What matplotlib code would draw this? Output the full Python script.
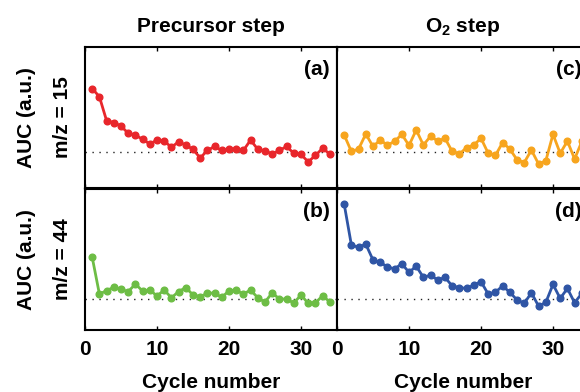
import matplotlib

matplotlib.use("Agg")
import matplotlib.pyplot as plt

plt.rcParams.update({
    "font.family": ["Liberation Sans", "DejaVu Sans"],
    "font.weight": "bold",
    "mathtext.default": "regular",
    "axes.linewidth": 1.5,
})

# cycle numbers and baseline-normalised areas (a.u.)
cycles = list(range(1, 35))
mz15_precursor = [2.78, 2.55, 1.88, 1.83, 1.73, 1.53, 1.48, 1.36, 1.23, 1.34,
                  1.31, 1.14, 1.29, 1.20, 1.08, 0.84, 1.05, 1.16, 1.05, 1.08,
                  1.09, 1.05, 1.34, 1.08, 1.04, 0.95, 1.05, 1.16, 0.97, 0.94,
                  0.73, 0.91, 1.11, 0.95]
mz44_precursor = [2.35, 1.16, 1.27, 1.38, 1.31, 1.24, 1.48, 1.26, 1.29, 1.10,
                  1.29, 1.04, 1.24, 1.37, 1.13, 1.08, 1.18, 1.20, 1.05, 1.27,
                  1.28, 1.16, 1.29, 1.04, 0.90, 1.20, 1.00, 1.00, 0.87, 1.13,
                  0.86, 0.88, 1.10, 0.91]
mz15_o2 = [1.48, 1.02, 1.09, 1.51, 1.16, 1.34, 1.20, 1.30, 1.50, 1.19,
           1.62, 1.20, 1.45, 1.31, 1.39, 1.02, 0.95, 1.13, 1.20, 1.39,
           0.97, 0.91, 1.27, 1.09, 0.79, 0.71, 1.06, 0.67, 0.76, 1.50,
           0.97, 1.31, 0.81, 1.30]
mz44_o2 = [4.06, 2.74, 2.67, 2.77, 2.26, 2.18, 2.04, 1.97, 2.14, 1.86,
           2.06, 1.70, 1.77, 1.61, 1.70, 1.42, 1.37, 1.34, 1.45, 1.56,
           1.16, 1.22, 1.42, 1.22, 0.97, 0.86, 1.20, 0.77, 0.89, 1.47,
           1.02, 1.34, 0.88, 1.18]

col_titles = ["Precursor step", "O$_2$ step"]
row_labels = ["m/z = 15", "m/z = 44"]
panel_tags = [["(a)", "(c)"], ["(b)", "(d)"]]
series = [[mz15_precursor, mz15_o2], [mz44_precursor, mz44_o2]]
colors = [["#e8262b", "#f7a51e"], ["#6dbd45", "#2f55a5"]]
row_ylim = [(0, 3.94), (0, 4.55)]

fig = plt.figure(figsize=(5.8, 3.92), dpi=100)
ax_w, ax_h = 252 / 580, 141 / 392
lefts = [85 / 580, 337 / 580]
bottoms = [1 - 188 / 392, 1 - 330 / 392]

for r in range(2):
    for c in range(2):
        ax = fig.add_axes([lefts[c], bottoms[r], ax_w, ax_h])
        ax.axhline(1.0, color="#222222", lw=1.0, ls=(0, (1, 4)), zorder=1)
        ax.plot(cycles, series[r][c], "-o", color=colors[r][c], lw=2,
                ms=4.8, zorder=3, clip_on=False)
        ax.set_xlim(0, 35)
        ax.set_ylim(*row_ylim[r])
        ax.set_yticks([])
        ax.set_xticks([0, 10, 20, 30])
        ax.tick_params(axis="x", direction="in", top=True, length=3,
                       width=1, labelsize=15, pad=7)
        if r == 0:
            ax.tick_params(axis="x", labelbottom=False)
            ax.set_title(col_titles[c], fontsize=15, fontweight="bold",
                         pad=10.5)
        else:
            ax.set_xlabel("Cycle number", fontsize=15, fontweight="bold",
                          labelpad=10)
        for lab in ax.get_xticklabels():
            lab.set_fontweight("bold")
        ax.text(0.972, 0.91, panel_tags[r][c], transform=ax.transAxes,
                ha="right", va="top", fontsize=15, fontweight="bold")

    # row labels on the left
    yc = bottoms[r] + ax_h / 2
    fig.text(26 / 580, yc, "AUC (a.u.)", rotation=90, ha="center",
             va="center", fontsize=15, fontweight="bold")
    fig.text(62 / 580, yc, row_labels[r], rotation=90, ha="center",
             va="center", fontsize=15, fontweight="bold")

fig.savefig("out.png", dpi=100)
